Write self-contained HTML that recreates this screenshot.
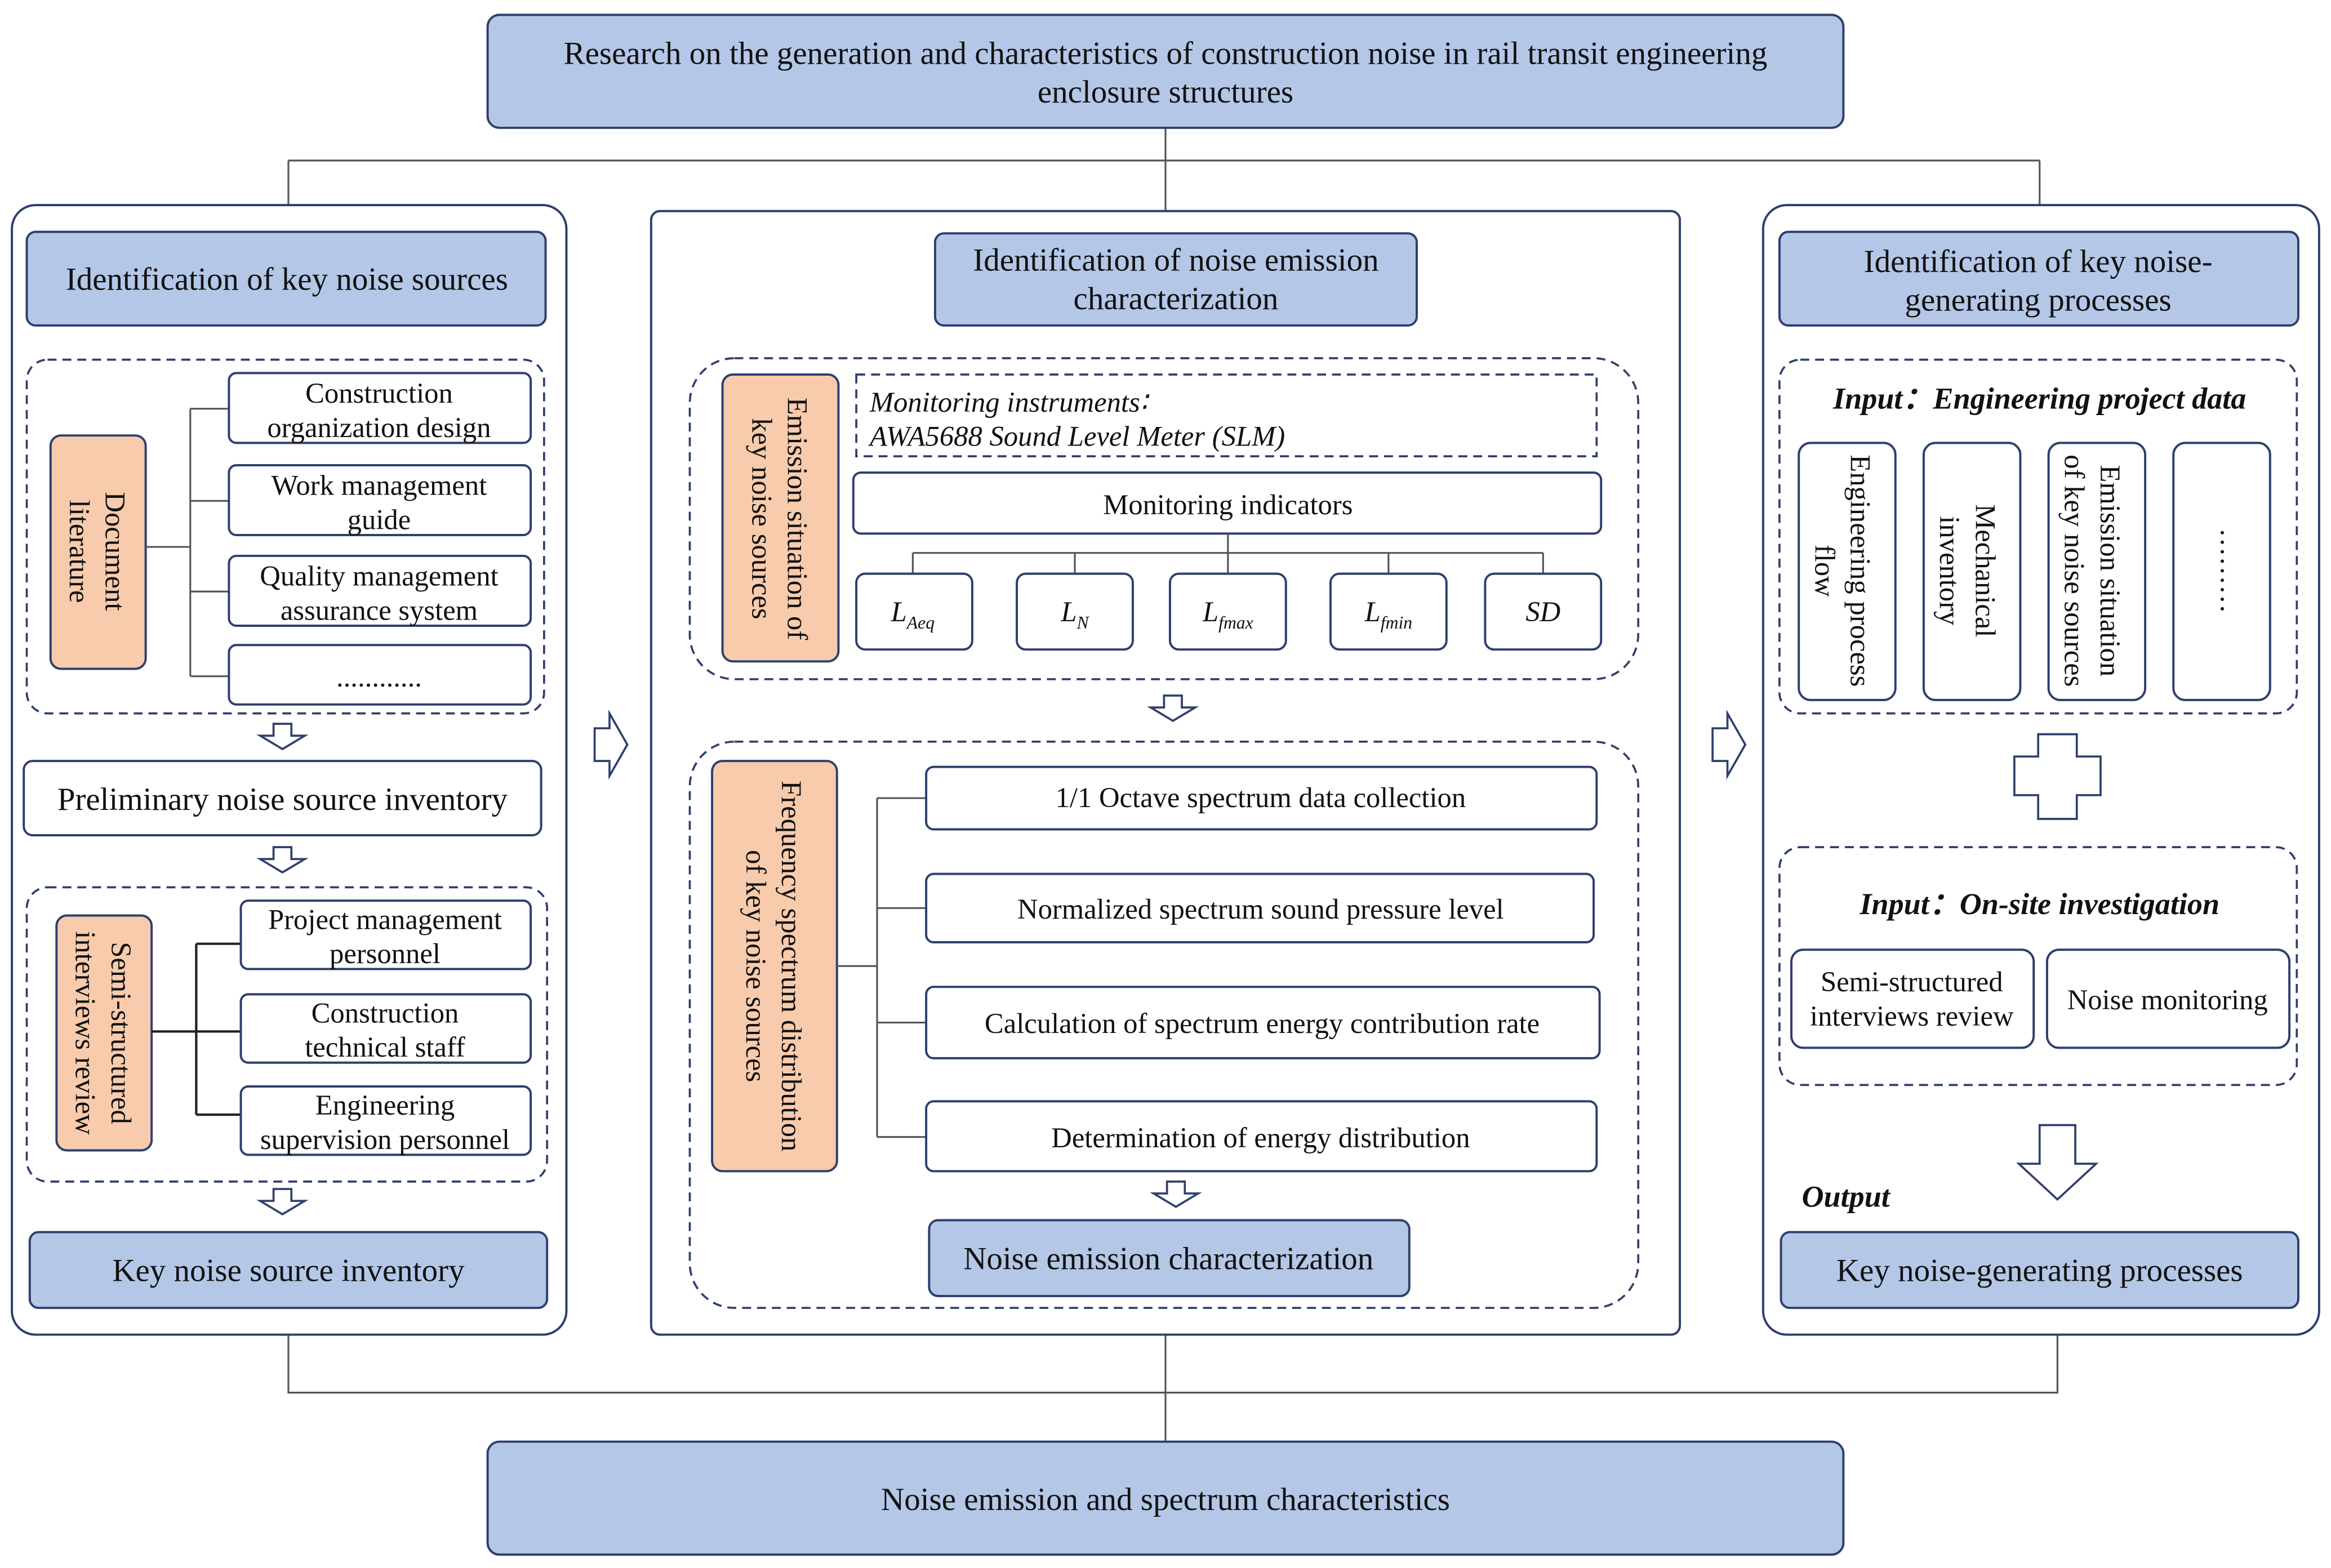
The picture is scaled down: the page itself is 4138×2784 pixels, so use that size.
<!DOCTYPE html>
<html><head><meta charset="utf-8"><style>html,body{margin:0;padding:0;background:#fff}svg{display:block}</style></head><body>
<svg xmlns="http://www.w3.org/2000/svg" width="4138" height="2784" viewBox="0 0 1568 1055" preserveAspectRatio="none" font-family="'Liberation Serif', serif" fill="#111">
<defs><style>
.b{fill:#b4c7e7;stroke:#2e3f6e;stroke-width:1.5}
.o{fill:#f8cbad;stroke:#2e3f6e;stroke-width:1.5}
.w{fill:#fff;stroke:#2e3f6e;stroke-width:1.5}
.p{fill:#fff;stroke:#2e3f6e;stroke-width:1.5}
.d{fill:none;stroke:#2e3f6e;stroke-width:1.4;stroke-dasharray:6,4}
.l{fill:none;stroke:#555;stroke-width:1.2}
.a{fill:#fff;stroke:#2e3f6e;stroke-width:1.4}
text{font-size:19.2px;text-anchor:middle}
.t20{font-size:21.6px}
.bi{font-weight:bold;font-style:italic;font-size:20.5px}
</style></defs>
<rect width="1568" height="1055" fill="#fff"/>
<path class="l" d="M784 86V108M194 108H1372M194 108V138M784 108V142M1372 108V138"/>
<path class="l" d="M194 898V937H1384V898M784 898V970"/>
<rect class="b" x="328" y="10" width="912" height="76" rx="8"/>
<text class="t20" x="784" y="43">Research on the generation and characteristics of construction noise in rail transit engineering</text>
<text class="t20" x="784" y="69">enclosure structures</text>
<rect class="b" x="328" y="970" width="912" height="76" rx="8"/>
<text class="t20" x="784" y="1016">Noise emission and spectrum characteristics</text>
<rect class="p" x="8" y="138" width="373" height="760" rx="16"/>
<rect class="p" x="438" y="142" width="692" height="756" rx="6"/>
<rect class="p" x="1186" y="138" width="374" height="760" rx="16"/>
<path class="a" d="M400 490h10v-10l12 21l-12 21v-10h-10z"/>
<path class="a" d="M1152 490h10v-10l12 21l-12 21v-10h-10z"/>
<rect class="b" x="18" y="156" width="349" height="63" rx="6"/>
<text class="t20" x="193" y="195">Identification of key noise sources</text>
<rect class="d" x="18" y="242" width="348" height="238" rx="14"/>
<rect class="o" x="34" y="293" width="64" height="157" rx="7"/>
<text transform="translate(66 371) rotate(90)"><tspan x="0" y="-5">Document</tspan><tspan x="0" y="19">literature</tspan></text>
<path class="l" d="M98 368H128M128 275V455M128 275H154M128 337H154M128 398H154M128 455H154"/>
<rect class="w" x="154" y="251" width="203" height="47" rx="5"/>
<text x="255" y="271">Construction</text><text x="255" y="294">organization design</text>
<rect class="w" x="154" y="313" width="203" height="47" rx="5"/>
<text x="255" y="333">Work management</text><text x="255" y="356">guide</text>
<rect class="w" x="154" y="374" width="203" height="47" rx="5"/>
<text x="255" y="394">Quality management</text><text x="255" y="417">assurance system</text>
<rect class="w" x="154" y="434" width="203" height="40" rx="5"/>
<text x="255" y="462">............</text>
<path class="a" d="M184 487h12v8h9l-15 9l-15-9h9z"/>
<rect class="w" x="16" y="512" width="348" height="50" rx="6"/>
<text class="t20" x="190" y="545">Preliminary noise source inventory</text>
<path class="a" d="M184 570h12v8h9l-15 9l-15-9h9z"/>
<rect class="d" x="18" y="597" width="350" height="198" rx="14"/>
<rect class="o" x="38" y="616" width="64" height="158" rx="7"/>
<text transform="translate(70 695) rotate(90)"><tspan x="0" y="-5">Semi-structured</tspan><tspan x="0" y="19">interviews review</tspan></text>
<path class="l" d="M102 694H132M132 635V750M132 635H162M132 694H162M132 750H162" style="stroke:#222;stroke-width:1.6"/>
<rect class="w" x="162" y="606" width="195" height="46" rx="5"/>
<text x="259" y="625">Project management</text><text x="259" y="648">personnel</text>
<rect class="w" x="162" y="669" width="195" height="46" rx="5"/>
<text x="259" y="688">Construction</text><text x="259" y="711">technical staff</text>
<rect class="w" x="162" y="731" width="195" height="46" rx="5"/>
<text x="259" y="750">Engineering</text><text x="259" y="773">supervision personnel</text>
<path class="a" d="M184 800h12v8h9l-15 9l-15-9h9z"/>
<rect class="b" x="20" y="829" width="348" height="51" rx="6"/>
<text class="t20" x="194" y="862">Key noise source inventory</text>
<rect class="b" x="629" y="157" width="324" height="62" rx="6"/>
<text class="t20" x="791" y="182">Identification of noise emission</text>
<text class="t20" x="791" y="208">characterization</text>
<rect class="d" x="464" y="241" width="638" height="216" rx="30"/>
<rect class="o" x="486" y="252" width="78" height="193" rx="7"/>
<text transform="translate(525 349) rotate(90)"><tspan x="0" y="-5">Emission situation of</tspan><tspan x="0" y="19">key noise sources</tspan></text>
<rect class="d" x="576" y="252" width="498" height="55" rx="0"/>
<text x="585" y="277" style="text-anchor:start;font-style:italic">Monitoring instruments∶</text>
<text x="585" y="300" style="text-anchor:start;font-style:italic">AWA5688 Sound Level Meter (SLM)</text>
<rect class="w" x="574" y="318" width="503" height="41" rx="5"/>
<text x="826" y="346">Monitoring indicators</text>
<path class="l" d="M826 359V372M614 372H1038M614 372V386M723 372V386M826 372V386M934 372V386M1038 372V386"/>
<rect class="w" x="576" y="386" width="78" height="51" rx="6"/>
<rect class="w" x="684" y="386" width="78" height="51" rx="6"/>
<rect class="w" x="787" y="386" width="78" height="51" rx="6"/>
<rect class="w" x="895" y="386" width="78" height="51" rx="6"/>
<rect class="w" x="999" y="386" width="78" height="51" rx="6"/>
<text x="614" y="418" style="font-style:italic">L<tspan font-size="12" dy="5">Aeq</tspan></text>
<text x="723" y="418" style="font-style:italic">L<tspan font-size="12" dy="5">N</tspan></text>
<text x="826" y="418" style="font-style:italic">L<tspan font-size="12" dy="5">fmax</tspan></text>
<text x="934" y="418" style="font-style:italic">L<tspan font-size="12" dy="5">fmin</tspan></text>
<text x="1038" y="418" style="font-style:italic">SD</text>
<path class="a" d="M783 468h12v8h9l-15 9l-15-9h9z"/>
<rect class="d" x="464" y="499" width="638" height="381" rx="30"/>
<rect class="o" x="479" y="512" width="84" height="276" rx="7"/>
<text transform="translate(521 650) rotate(90)"><tspan x="0" y="-5">Frequency spectrum distribution</tspan><tspan x="0" y="19">of key noise sources</tspan></text>
<path class="l" d="M563 650H590M590 537V765M590 537H623M590 611H623M590 688H623M590 765H623"/>
<rect class="w" x="623" y="516" width="451" height="42" rx="5"/>
<text x="848" y="543">1/1 Octave spectrum data collection</text>
<rect class="w" x="623" y="588" width="449" height="46" rx="5"/>
<text x="848" y="618">Normalized spectrum sound pressure level</text>
<rect class="w" x="623" y="664" width="453" height="48" rx="5"/>
<text x="849" y="695">Calculation of spectrum energy contribution rate</text>
<rect class="w" x="623" y="741" width="451" height="47" rx="5"/>
<text x="848" y="772">Determination of energy distribution</text>
<path class="a" d="M785 795h12v8h9l-15 9l-15-9h9z"/>
<rect class="b" x="625" y="821" width="323" height="51" rx="6"/>
<text class="t20" x="786" y="854">Noise emission characterization</text>
<rect class="b" x="1197" y="156" width="349" height="63" rx="6"/>
<text class="t20" x="1371" y="183">Identification of key noise-</text>
<text class="t20" x="1371" y="209">generating processes</text>
<rect class="d" x="1197" y="242" width="348" height="238" rx="14"/>
<text class="bi" x="1372" y="275">Input：Engineering project data</text>
<rect class="w" x="1210" y="298" width="65" height="173" rx="8"/>
<rect class="w" x="1294" y="298" width="65" height="173" rx="8"/>
<rect class="w" x="1378" y="298" width="65" height="173" rx="8"/>
<rect class="w" x="1462" y="298" width="65" height="173" rx="8"/>
<text transform="translate(1240 384) rotate(90)"><tspan x="0" y="-5">Engineering process</tspan><tspan x="0" y="19">flow</tspan></text>
<text transform="translate(1324 384) rotate(90)"><tspan x="0" y="-5">Mechanical</tspan><tspan x="0" y="19">inventory</tspan></text>
<text transform="translate(1408 384) rotate(90)"><tspan x="0" y="-5">Emission situation</tspan><tspan x="0" y="19">of key noise sources</tspan></text>
<text transform="translate(1494 384) rotate(90)"><tspan x="0" y="0">………</tspan></text>
<path class="a" d="M1371 494h26v15h16v26h-16v16h-26v-16h-16v-26h16z"/>
<rect class="d" x="1197" y="570" width="348" height="160" rx="14"/>
<text class="bi" x="1372" y="615">Input：On-site investigation</text>
<rect class="w" x="1205" y="639" width="163" height="66" rx="8"/>
<text x="1286" y="667">Semi-structured</text><text x="1286" y="690">interviews review</text>
<rect class="w" x="1377" y="639" width="163" height="66" rx="8"/>
<text x="1458" y="679">Noise monitoring</text>
<path class="a" d="M1372 757h24v26h14l-26 24l-26-24h14z"/>
<text class="bi" x="1212" y="812" style="text-anchor:start">Output</text>
<rect class="b" x="1198" y="829" width="348" height="51" rx="6"/>
<text class="t20" x="1372" y="862">Key noise-generating processes</text>
</svg>
</body></html>
